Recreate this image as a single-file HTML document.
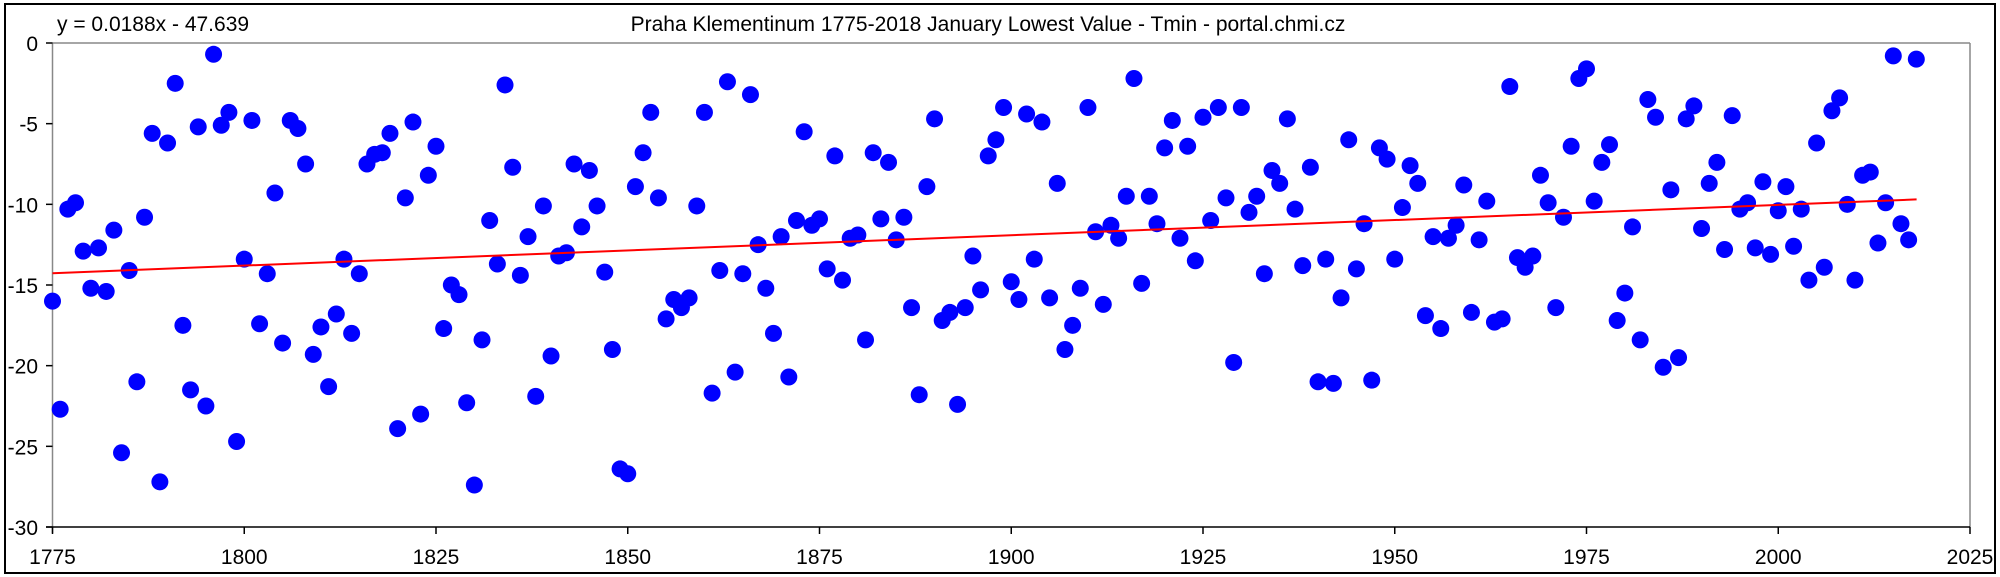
<!DOCTYPE html>
<html><head><meta charset="utf-8"><style>
html,body{margin:0;padding:0;background:#fff}
svg{display:block}
text{font-family:"Liberation Sans",Arial,sans-serif;font-size:21px;fill:#000}
</style></head><body>
<svg id="s" width="2000" height="577" viewBox="0 0 2000 577" xmlns="http://www.w3.org/2000/svg">
<rect x="5" y="4" width="1990" height="569" fill="#fff" stroke="#000" stroke-width="2"/>
<text x="57" y="31">y = 0.0188x - 47.639</text>
<text x="988" y="31" text-anchor="middle">Praha Klementinum 1775-2018 January Lowest Value - Tmin - portal.chmi.cz</text>
<line x1="52.5" y1="43" x2="1970" y2="43" stroke="#888" stroke-width="1.5"/>
<line x1="1970" y1="43" x2="1970" y2="527" stroke="#888" stroke-width="1.5"/>
<line x1="52.5" y1="43" x2="52.5" y2="533" stroke="#888" stroke-width="1.5"/>
<line x1="46" y1="527" x2="1970" y2="527" stroke="#000" stroke-width="1.5"/>
<g id="ax"></g>
<g id="pts" fill="#0000ff"></g>
<line x1="52.5" y1="273.2" x2="1916.6" y2="199.4" stroke="#ff0000" stroke-width="2"/>
</svg>
<script>
var X0=52.5,X1=1970,Y0=43,Y1=527;
function px(yr){return X0+(yr-1775)*(X1-X0)/250}
function py(v){return Y0+(-v)*(Y1-Y0)/30}
var ns="http://www.w3.org/2000/svg",ax=document.getElementById("ax");
function el(t,a,txt){var e=document.createElementNS(ns,t);for(var k in a)e.setAttribute(k,a[k]);if(txt)e.textContent=txt;ax.appendChild(e);}
for(var v=0;v>=-30;v-=5){var y=py(v);el("line",{x1:46,y1:y,x2:52.5,y2:y,stroke:"#000","stroke-width":1.5});el("text",{x:38,y:y+8,"text-anchor":"end"},String(v));}
for(var yr=1775;yr<=2025;yr+=25){var x=px(yr);el("line",{x1:x,y1:527,x2:x,y2:534,stroke:"#000","stroke-width":1.5});el("text",{x:x,y:564,"text-anchor":"middle"},String(yr));}
var d=[-16,-22.7,-10.3,-9.9,-12.9,-15.2,-12.7,-15.4,-11.6,-25.4,-14.1,-21,-10.8,-5.6,-27.2,-6.2,-2.5,-17.5,-21.5,-5.2,-22.5,-0.7,-5.1,-4.3,-24.7,-13.4,-4.8,-17.4,-14.3,-9.3,-18.6,-4.8,-5.3,-7.5,-19.3,-17.6,-21.3,-16.8,-13.4,-18,-14.3,-7.5,-6.9,-6.8,-5.6,-23.9,-9.6,-4.9,-23,-8.2,-6.4,-17.7,-15,-15.6,-22.3,-27.4,-18.4,-11,-13.7,-2.6,-7.7,-14.4,-12,-21.9,-10.1,-19.4,-13.2,-13,-7.5,-11.4,-7.9,-10.1,-14.2,-19,-26.4,-26.7,-8.9,-6.8,-4.3,-9.6,-17.1,-15.9,-16.4,-15.8,-10.1,-4.3,-21.7,-14.1,-2.4,-20.4,-14.3,-3.2,-12.5,-15.2,-18,-12,-20.7,-11,-5.5,-11.3,-10.9,-14,-7,-14.7,-12.1,-11.9,-18.4,-6.8,-10.9,-7.4,-12.2,-10.8,-16.4,-21.8,-8.9,-4.7,-17.2,-16.7,-22.4,-16.4,-13.2,-15.3,-7,-6,-4,-14.8,-15.9,-4.4,-13.4,-4.9,-15.8,-8.7,-19,-17.5,-15.2,-4,-11.7,-16.2,-11.3,-12.1,-9.5,-2.2,-14.9,-9.5,-11.2,-6.5,-4.8,-12.1,-6.4,-13.5,-4.6,-11,-4,-9.6,-19.8,-4,-10.5,-9.5,-14.3,-7.9,-8.7,-4.7,-10.3,-13.8,-7.7,-21,-13.4,-21.1,-15.8,-6,-14,-11.2,-20.9,-6.5,-7.2,-13.4,-10.2,-7.6,-8.7,-16.9,-12,-17.7,-12.1,-11.3,-8.8,-16.7,-12.2,-9.8,-17.3,-17.1,-2.7,-13.3,-13.9,-13.2,-8.2,-9.9,-16.4,-10.8,-6.4,-2.2,-1.6,-9.8,-7.4,-6.3,-17.2,-15.5,-11.4,-18.4,-3.5,-4.6,-20.1,-9.1,-19.5,-4.7,-3.9,-11.5,-8.7,-7.4,-12.8,-4.5,-10.3,-9.9,-12.7,-8.6,-13.1,-10.4,-8.9,-12.6,-10.3,-14.7,-6.2,-13.9,-4.2,-3.4,-10,-14.7,-8.2,-8,-12.4,-9.9,-0.8,-11.2,-12.2,-1];
var g=document.getElementById("pts");
for(var i=0;i<d.length;i++){var c=document.createElementNS(ns,"circle");c.setAttribute("cx",px(1775+i));c.setAttribute("cy",py(d[i]));c.setAttribute("r",8.5);g.appendChild(c);}
</script>
</body></html>
